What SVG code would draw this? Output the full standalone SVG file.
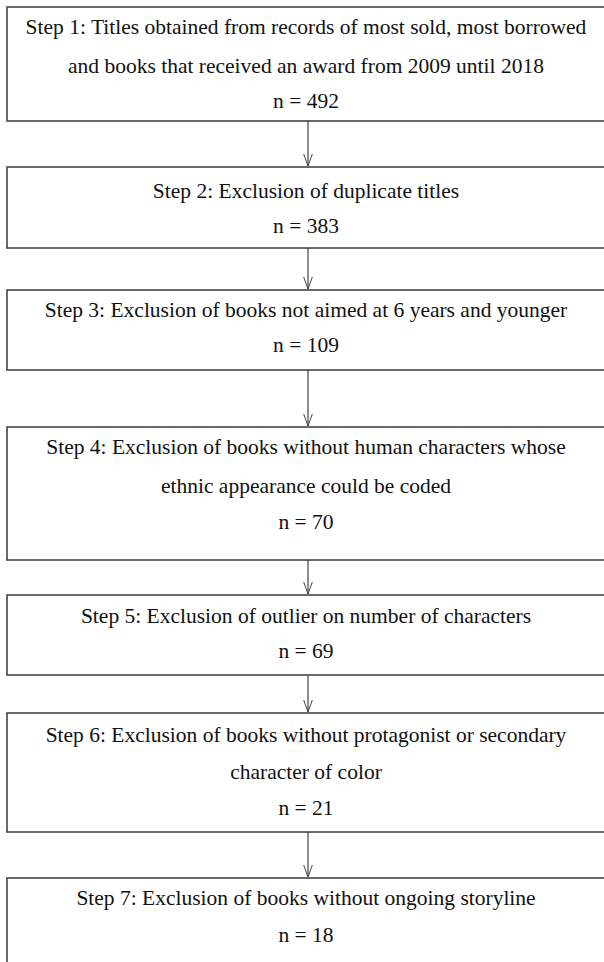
<svg xmlns="http://www.w3.org/2000/svg" width="604" height="962" viewBox="0 0 604 962">
<defs>
<marker id="v" viewBox="0 0 13 10" refX="12.5" refY="5" markerWidth="13" markerHeight="10" markerUnits="userSpaceOnUse" orient="auto">
<path d="M0 0.5 L12.5 5 L0 9.5" fill="none" stroke="#444" stroke-width="1"/>
</marker>
</defs>
<style>
.box{fill:#fff;stroke:#3a3a3a;stroke-width:1.5}
.t{font-family:"Liberation Serif","Times New Roman",serif;font-size:21.5px;fill:#111;text-anchor:middle}
.c{stroke:#444;stroke-width:1.2;fill:none}
</style>
<rect width="604" height="962" fill="#fff"/>
<g id="connectors">
<line class="c" x1="308" y1="121" x2="308" y2="166" marker-end="url(#v)"/>
<line class="c" x1="308" y1="248" x2="308" y2="289" marker-end="url(#v)"/>
<line class="c" x1="308" y1="370" x2="308" y2="426" marker-end="url(#v)"/>
<line class="c" x1="308" y1="560" x2="308" y2="594" marker-end="url(#v)"/>
<line class="c" x1="308" y1="675" x2="308" y2="712" marker-end="url(#v)"/>
<line class="c" x1="308" y1="832" x2="308" y2="877" marker-end="url(#v)"/>
</g>
<g id="step1">
<rect class="box" x="7" y="7" width="610" height="114"/>
<text class="t" x="306" y="34">Step 1: Titles obtained from records of most sold, most borrowed</text>
<text class="t" x="306" y="73">and books that received an award from 2009 until 2018</text>
<text class="t" x="306" y="108">n = 492</text>
</g>
<g id="step2">
<rect class="box" x="7" y="167" width="610" height="81"/>
<text class="t" x="306" y="198">Step 2: Exclusion of duplicate titles</text>
<text class="t" x="306" y="233">n = 383</text>
</g>
<g id="step3">
<rect class="box" x="7" y="290" width="610" height="80"/>
<text class="t" x="306" y="317">Step 3: Exclusion of books not aimed at 6 years and younger</text>
<text class="t" x="306" y="352">n = 109</text>
</g>
<g id="step4">
<rect class="box" x="7" y="427" width="610" height="133"/>
<text class="t" x="306" y="454">Step 4: Exclusion of books without human characters whose</text>
<text class="t" x="306" y="493">ethnic appearance could be coded</text>
<text class="t" x="306" y="529">n = 70</text>
</g>
<g id="step5">
<rect class="box" x="7" y="595" width="610" height="80"/>
<text class="t" x="306" y="623">Step 5: Exclusion of outlier on number of characters</text>
<text class="t" x="306" y="658">n = 69</text>
</g>
<g id="step6">
<rect class="box" x="7" y="713" width="610" height="119"/>
<text class="t" x="306" y="742">Step 6: Exclusion of books without protagonist or secondary</text>
<text class="t" x="306" y="779">character of color</text>
<text class="t" x="306" y="815">n = 21</text>
</g>
<g id="step7">
<rect class="box" x="7" y="878" width="610" height="120"/>
<text class="t" x="306" y="905">Step 7: Exclusion of books without ongoing storyline</text>
<text class="t" x="306" y="942">n = 18</text>
</g>
</svg>
